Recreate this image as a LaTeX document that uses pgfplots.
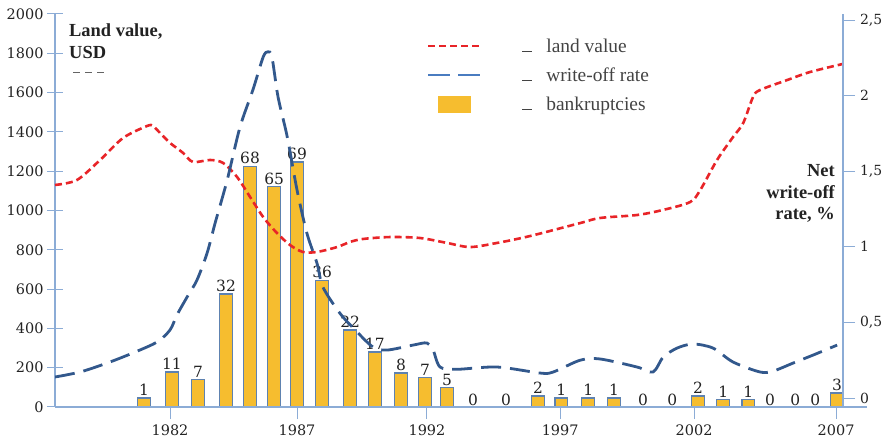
\documentclass[border=0pt]{standalone}
\usepackage{pgfplots}
\pgfplotsset{compat=1.18}
\usepackage{fontspec}
\setmainfont{Liberation Serif}
\newfontfamily\numfont{DejaVu Serif}
\definecolor{axblue}{RGB}{140,172,214}
\definecolor{barfill}{RGB}{246,189,47}
\definecolor{baredge}{RGB}{94,130,176}
\definecolor{landred}{RGB}{232,36,40}
\definecolor{wrblue}{RGB}{50,88,140}
\definecolor{legblue}{RGB}{74,124,192}
\definecolor{txt}{RGB}{34,34,34}
\begin{document}
\begin{tikzpicture}
\begin{axis}[name=a, scale only axis, width=788bp, height=393bp,
  xmin=1977.69, xmax=2007.22, ymin=0, ymax=2000,
  axis x line=none, axis y line*=left,
  axis line style={-, axblue, line width=1.1bp},
  tick style={axblue, line width=1bp},
  ytick={0,200,...,2000},
  tick align=center, major tick length=16bp,
  /pgf/number format/assume math mode=true,
  /pgf/number format/1000 sep={},
  yticklabel style={font=\numfont\fontsize{14.5}{16}\selectfont, text=txt},
  legend style={draw=none, fill=none, at={(axis description cs:0.468,0.948)}, anchor=north west,
    font=\fontsize{19.5}{21}\selectfont, text=txt!85, legend cell align=left, row sep=10bp},
  legend image code/.code={\draw[#1] (0bp,0bp) -- (52bp,0bp);},
]
\addlegendimage{landred, line width=2.4bp, dash pattern=on 7bp off 4bp}
\addlegendentry{\hspace*{39bp}\rule{10bp}{0.9bp}\hspace{14bp}land value}
\addlegendimage{legblue, line width=2.4bp, dash pattern=on 22bp off 8bp}
\addlegendentry{\hspace*{39bp}\rule{10bp}{0.9bp}\hspace{14bp}write-off rate}
\addlegendimage{legend image code/.code={\fill[barfill] (10bp,-8bp) rectangle (42bp,8bp);}}
\addlegendentry{\hspace*{39bp}\rule{10bp}{0.9bp}\hspace{14bp}bankruptcies}

\addplot[ybar, bar width=12.5bp, bar shift=0pt, fill=barfill, draw=baredge, line width=1.1bp,
  nodes near coords, point meta=explicit symbolic,
  nodes near coords style={font=\numfont\fontsize{15.5}{17}\selectfont, text=txt, inner sep=1.5bp, anchor=south}]
coordinates {
(1981.03,46) [1]
(1982.07,178) [11]
(1983.05,142) [7]
(1984.10,575) [32]
(1985.00,1226) [68]
(1985.90,1120) [65]
(1986.76,1247) [69]
(1987.70,646) [36]
(1988.75,392) [22]
(1989.68,280) [17]
(1990.66,173) [8]
(1991.56,148) [7]
(1992.38,97) [5]
(1995.79,56) [2]
(1996.66,46) [1]
(1997.67,46) [1]
(1998.64,46) [1]
(2001.79,56) [2]
(2002.73,40) [1]
(2003.67,40) [1]
(2007.00,71) [3]
};
\addplot[ybar, bar width=12.5bp, bar shift=0pt, draw=none, fill=none,
  nodes near coords, point meta=explicit symbolic,
  nodes near coords style={font=\numfont\fontsize{15.5}{17}\selectfont, text=txt, inner sep=1.5bp, anchor=south}]
coordinates {
(1993.36,0) [0]
(1994.59,0) [0]
(1999.73,0) [0]
(2000.82,0) [0]
(2004.49,0) [0]
(2005.43,0) [0]
(2006.18,0) [0]
};
\addplot[landred, line width=2.6bp, dash pattern=on 7bp off 4bp, smooth, tension=0.5] coordinates {
(1977.69,1130) (1978.51,1155) (1979.38,1257) (1980.24,1369) (1981.14,1430) (1981.36,1430)
(1981.63,1394) (1982.00,1344) (1982.49,1293) (1982.86,1247) (1983.50,1257) (1983.99,1242)
(1984.51,1171) (1985.00,1069) (1985.49,967) (1986.01,885) (1986.50,824) (1986.98,789)
(1987.51,789) (1988.26,814) (1988.75,840) (1989.23,855) (1990.25,865) (1991.37,860)
(1992.38,835) (1993.24,814) (1994.26,835) (1995.49,870) (1997.37,936) (1998.12,962)
(1999.50,977) (2000.48,1003) (2001.49,1043) (2001.87,1104) (2002.50,1257) (2003.10,1374)
(2003.48,1445) (2003.85,1578) (2004.11,1613) (2005.13,1664) (2005.99,1705) (2007.22,1746)
};
\end{axis}

\begin{axis}[scale only axis, width=788bp, height=393bp, at={(a.south west)}, anchor=south west,
  xmin=1977.69, xmax=2007.22, ymin=-0.0595, ymax=2.54,
  axis y line*=right, axis x line*=bottom,
  axis line style={-, axblue, line width=1.1bp},
  tick style={axblue, line width=1bp},
  tick align=outside, major tick length=12bp,
  xtick={1982,1986.76,1991.63,1996.62,2001.64,2006.96},
  xticklabels={1982,1987,1992,1997,2002,2007},
  ytick={0,0.5,1,1.5,2,2.5},
  yticklabels={0,{0,5},1,{1,5},2,{2,5}},
  xticklabel style={font=\numfont\fontsize{14.5}{16}\selectfont, text=txt, yshift=-2bp},
  yticklabel style={font=\numfont\fontsize{14}{16}\selectfont, text=txt, xshift=1.5bp},
]
\addplot[wrblue, line width=2.8bp, dash pattern=on 20bp off 9bp, smooth, tension=0.5] coordinates {
(1977.69,0.139) (1978.63,0.172) (1979.64,0.231) (1980.61,0.298) (1981.51,0.37) (1982.00,0.45)
(1982.26,0.549) (1982.64,0.668) (1983.01,0.78) (1983.39,0.959) (1983.69,1.157) (1984.14,1.44)
(1984.62,1.79) (1985.11,2.04) (1985.49,2.255) (1985.67,2.29) (1985.82,2.255) (1986.05,1.99)
(1986.39,1.73) (1986.76,1.376) (1987.13,1.09) (1987.51,0.89) (1987.73,0.734) (1988.37,0.56)
(1989.01,0.437) (1989.61,0.337) (1990.13,0.317) (1991.11,0.35) (1991.63,0.364) (1991.86,0.317)
(1992.12,0.205) (1992.76,0.19) (1994.26,0.205) (1995.87,0.165) (1996.36,0.172) (1997.37,0.25)
(1998.12,0.258) (1999.50,0.205) (2000.10,0.172) (2000.48,0.27) (2001.00,0.33) (2001.60,0.357)
(2002.35,0.33) (2003.10,0.238) (2004.11,0.172) (2004.60,0.178) (2005.35,0.231) (2006.10,0.284)
(2007.00,0.35)
};
\end{axis}

\draw[axblue, line width=1.1bp] (a.south east) -- ++(24bp,0);
\node[anchor=base west, font=\bfseries\fontsize{18.5}{22}\selectfont, text=txt, inner sep=0pt] at ([shift={(14bp,370bp)}]a.south west) {Land value,};
\node[anchor=base west, font=\bfseries\fontsize{18.5}{22}\selectfont, text=txt, inner sep=0pt] at ([shift={(14bp,348bp)}]a.south west) {USD};
\draw[txt!70, line width=0.8bp, dash pattern=on 7bp off 5bp] ([shift={(18bp,335bp)}]a.south west) -- ++(34bp,0);
\node[anchor=base east, font=\bfseries\fontsize{18.5}{22}\selectfont, text=txt, inner sep=0pt] at ([shift={(780bp,230bp)}]a.south west) {Net};
\node[anchor=base east, font=\bfseries\fontsize{18.5}{22}\selectfont, text=txt, inner sep=0pt] at ([shift={(780bp,208bp)}]a.south west) {write-off};
\node[anchor=base east, font=\bfseries\fontsize{18.5}{22}\selectfont, text=txt, inner sep=0pt] at ([shift={(780bp,187bp)}]a.south west) {rate, \%};
\pgfresetboundingbox
\path[use as bounding box] ([shift={(-55bp,-30bp)}]a.south west) rectangle ([shift={(829bp,407bp)}]a.south west);
\end{tikzpicture}
\end{document}
